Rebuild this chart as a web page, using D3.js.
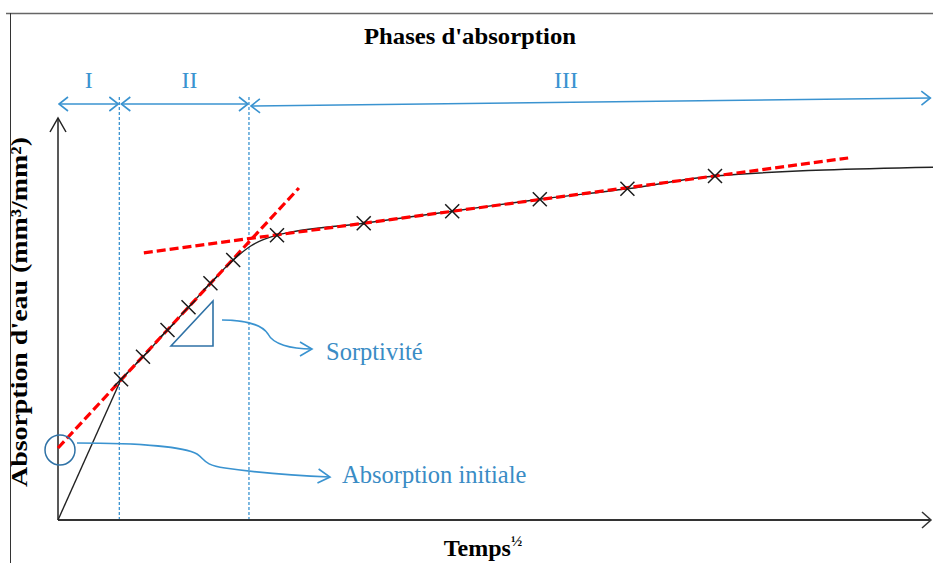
<!DOCTYPE html>
<meta charset="utf-8">
<head>
<script src="https://d3js.org/d3.v7.min.js"></script>
<style>
  body { margin: 0; background: #fff; }
  text { font-family: "Liberation Serif", "Times New Roman", serif; }
</style>
</head>
<body>
<div id="chart"></div>
<script>
  // measured curve (Temps^1/2 vs absorption, arbitrary units)
  var curveX = [0, 0.72, 0.97, 1.25, 1.49, 1.74, 2.0, 2.2, 2.5, 3.49, 4.5, 5.5, 6.5, 7.5, 10.0];
  var curveY = [0, 3.52, 4.08, 4.75, 5.32, 5.92, 6.5, 6.85, 7.12, 7.42, 7.72, 8.02, 8.28, 8.6, 8.82];

  var crossX = [0.72, 0.97, 1.25, 1.49, 1.74, 2.0, 2.5, 3.49, 4.5, 5.5, 6.5, 7.5];
  var crossY = [3.52, 4.08, 4.75, 5.32, 5.92, 6.5, 7.12, 7.42, 7.72, 8.02, 8.28, 8.6];

  // tangents (red dashed)
  var fit1X = [0, 2.75], fit1Y = [1.8, 8.3];
  var fit2X = [0.98, 9.02], fit2Y = [6.68, 9.05];

  var phaseBounds = [0, 0.70, 2.18, 9.97];
  var phaseNames = ["I", "II", "III"];
  var phaseLabelX = [0.35, 1.5, 5.8];

  var W = 933, H = 563;
  var blue = "#3a93d0", dark = "#2f72a6";

  var x = d3.scaleLinear().domain([0, 10]).range([58, 934]);
  var y = d3.scaleLinear().domain([0, 10]).range([520, 120]);

  var svg = d3.select("#chart").append("svg")
          .attr("width", W).attr("height", H);

  // frame
  svg.append("line").attr("x1", 6).attr("x2", W).attr("y1", 13.5).attr("y2", 13.5)
          .attr("stroke", "#666").attr("stroke-width", 1.5);
  svg.append("line").attr("x1", 10.5).attr("x2", 10.5).attr("y1", 13).attr("y2", H)
          .attr("stroke", "#333").attr("stroke-width", 1);

  svg.append("text").attr("x", 470).attr("y", 44).attr("text-anchor", "middle")
          .attr("font-size", 24).attr("font-weight", "bold")
          .attr("textLength", 212).attr("lengthAdjust", "spacingAndGlyphs")
          .text("Phases d'absorption");

  var chevron = function (tx, ty, dir, len, half) {
    // open arrow head, dir = angle of the shaft
    var c = Math.cos(dir), s = Math.sin(dir);
    var bx = tx - c * len, by = ty - s * len;
    return "M" + (bx - s * half) + "," + (by + c * half) + "L" + tx + "," + ty +
            "L" + (bx + s * half) + "," + (by - c * half);
  };

  // phase separators
  svg.selectAll("line.sep").data(phaseBounds.slice(1, 3)).enter()
          .append("line").attr("class", "sep")
          .attr("x1", d => x(d)).attr("x2", d => x(d))
          .attr("y1", 97).attr("y2", y(0))
          .attr("stroke", blue).attr("stroke-width", 1.3)
          .attr("stroke-dasharray", "3,2");

  // phase arrows
  var arrowY = [[104, 104], [104, 104], [106, 98]];
  phaseNames.forEach(function (name, i) {
    var x1 = x(phaseBounds[i]) + (i == 0 ? 1 : 2), x2 = x(phaseBounds[i + 1]) - 1;
    var y1 = arrowY[i][0], y2 = arrowY[i][1];
    var ang = Math.atan2(y2 - y1, x2 - x1);
    svg.append("line").attr("x1", x1).attr("y1", y1).attr("x2", x2).attr("y2", y2)
            .attr("stroke", blue).attr("stroke-width", 1.6);
    svg.append("path").attr("d", chevron(x2, y2, ang, 9, 7) + chevron(x1, y1, ang + Math.PI, 9, 7))
            .attr("fill", "none").attr("stroke", blue).attr("stroke-width", 1.6);
    svg.append("text").attr("x", x(phaseLabelX[i])).attr("y", 88).attr("text-anchor", "middle")
            .attr("font-size", 24).attr("fill", blue).text(name);
  });

  // axes
  svg.append("line").attr("x1", x(0)).attr("y1", y(0)).attr("x2", x(0)).attr("y2", 118)
          .attr("stroke", "#222").attr("stroke-width", 1.5);
  svg.append("path").attr("d", chevron(x(0), 118, -Math.PI / 2, 14, 8))
          .attr("fill", "none").attr("stroke", "#222").attr("stroke-width", 1.5);
  svg.append("line").attr("x1", x(0)).attr("y1", y(0)).attr("x2", 931).attr("y2", y(0))
          .attr("stroke", "#333").attr("stroke-width", 2);
  svg.append("path").attr("d", chevron(931, y(0), 0, 9, 8))
          .attr("fill", "none").attr("stroke", "#333").attr("stroke-width", 1.5);

  svg.append("text").attr("transform", "translate(27,312) rotate(-90)")
          .attr("text-anchor", "middle").attr("font-size", 23).attr("font-weight", "bold")
          .attr("textLength", 350).attr("lengthAdjust", "spacingAndGlyphs")
          .text("Absorption d'eau (mm³/mm²)");

  var xl = svg.append("text").attr("x", 483).attr("y", 556).attr("text-anchor", "middle")
          .attr("font-size", 24).attr("font-weight", "bold");
  xl.append("tspan").text("Temps");
  xl.append("tspan").attr("font-size", 15).attr("dy", -10).text("½");

  // data curve: straight initial rise, smooth afterwards
  var pts = d3.zip(curveX, curveY);
  var line = d3.line().x(d => x(d[0])).y(d => y(d[1]));
  svg.append("path").datum(pts.slice(0, 2)).attr("d", line)
          .attr("fill", "none").attr("stroke", "#222").attr("stroke-width", 1.4);
  svg.append("path").datum(pts.slice(1)).attr("d", line.curve(d3.curveMonotoneX))
          .attr("fill", "none").attr("stroke", "#222").attr("stroke-width", 1.4);

  // tangents
  [[fit1X, fit1Y], [fit2X, fit2Y]].forEach(function (f) {
    svg.append("line")
            .attr("x1", x(f[0][0])).attr("y1", y(f[1][0]))
            .attr("x2", x(f[0][1])).attr("y2", y(f[1][1]))
            .attr("stroke", "#ff0000").attr("stroke-width", 3.2)
            .attr("stroke-dasharray", "9,4");
  });

  // crosses
  svg.selectAll("path.cross").data(d3.zip(crossX, crossY)).enter()
          .append("path").attr("class", "cross")
          .attr("d", function (d) {
            var cx = x(d[0]), cy = y(d[1]), r = 7;
            return "M" + (cx - r) + "," + (cy - r) + "L" + (cx + r) + "," + (cy + r) +
                    "M" + (cx - r) + "," + (cy + r) + "L" + (cx + r) + "," + (cy - r);
          })
          .attr("stroke", "#1a1a1a").attr("stroke-width", 1.5);

  // annotations
  svg.append("circle").attr("cx", x(0) + 2).attr("cy", y(fit1Y[0]) + 2).attr("r", 15)
          .attr("fill", "none").attr("stroke", dark).attr("stroke-width", 1.5);
  svg.append("path").attr("d", "M77,443 C140,443 185,447 197,454 C205,459 203,465 225,468 C260,473 300,476 330,477")
          .attr("fill", "none").attr("stroke", blue).attr("stroke-width", 1.6);
  svg.append("path").attr("d", chevron(330, 477, Math.atan2(1, 12), 12, 7))
          .attr("fill", "none").attr("stroke", blue).attr("stroke-width", 1.6);
  svg.append("text").attr("x", 342).attr("y", 483).attr("font-size", 24.5)
          .attr("fill", "#3a8cc5").text("Absorption initiale");

  svg.append("path").attr("d", "M171,346 L213,346 L213,301 Z")
          .attr("fill", "none").attr("stroke", dark).attr("stroke-width", 1.6);
  svg.append("path").attr("d", "M222,320 C245,320 262,325 268,334 C273,344 290,349 312,349")
          .attr("fill", "none").attr("stroke", blue).attr("stroke-width", 1.6);
  svg.append("path").attr("d", chevron(312, 349, 0, 12, 7))
          .attr("fill", "none").attr("stroke", blue).attr("stroke-width", 1.6);
  svg.append("text").attr("x", 326).attr("y", 360).attr("font-size", 24.5)
          .attr("fill", "#3a8cc5").text("Sorptivité");
</script>
</body>
